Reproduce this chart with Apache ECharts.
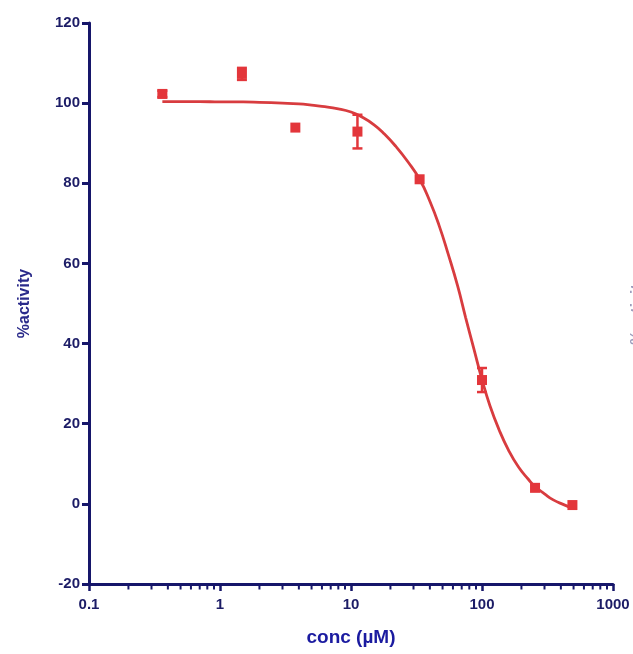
<!DOCTYPE html>
<html>
<head>
<meta charset="utf-8">
<title>% activity vs conc</title>
<script src="https://cdn.jsdelivr.net/npm/echarts@6/dist/echarts.min.js"></script>
<style>
  html, body { margin: 0; padding: 0; background: #fff; }
  #chart { width: 633px; height: 654px; }
</style>
</head>
<body>
<div id="chart"></div>
<script>
// measured points (conc in µM, % activity, error)
const conc = [0.363, 1.47, 3.76, 11.2, 33.4, 100, 254, 490]
const activity = [102.3, 107.3, 93.9, 92.9, 81.0, 30.9, 4.0, -0.3]
const errBar = [0.8, 1.5, 0, 4.2, 0, 3.0, 0, 0]

// fitted curve
const curveX = [0.363, 0.5, 0.7, 1, 1.5, 2, 3, 4, 5, 6, 8, 10, 12, 15, 18, 22, 27, 33.4, 40, 47, 55, 65, 75, 87, 100, 115, 135, 160, 190, 225, 254, 300, 350, 420, 500]
const curveY = [100.4, 100.4, 100.4, 100.3, 100.3, 100.2, 100.0, 99.8, 99.5, 99.2, 98.6, 97.8, 96.6, 94.6, 92.3, 89.2, 85.5, 81.0, 75.5, 69.5, 62.5, 54.5, 46.5, 38.5, 31.0, 24.5, 18.5, 13.3, 9.2, 6.2, 4.3, 2.5, 1.0, -0.2, -1.2]

// minor ticks of the log axis
const minorTicks = [
  0.2, 0.3, 0.4, 0.5, 0.6, 0.7, 0.8, 0.9,
  2, 3, 4, 5, 6, 7, 8, 9,
  20, 30, 40, 50, 60, 70, 80, 90,
  200, 300, 400, 500, 600, 700, 800, 900
]

const navy = '#16166a'
const red = '#e3363b'

const chart = echarts.init(document.getElementById('chart'))

chart.setOption({
  animation: false,
  grid: { left: 89, right: 20, top: 23, bottom: 70 },
  xAxis: {
    type: 'log',
    logBase: 10,
    min: 0.1,
    max: 1000,
    name: 'conc (µM)',
    nameLocation: 'middle',
    nameGap: 44,
    nameTextStyle: { color: '#1b1ba0', fontSize: 19, fontWeight: 'bold', fontFamily: 'Liberation Sans' },
    axisLine: { onZero: false, lineStyle: { color: navy, width: 3 } },
    axisTick: { length: 7, lineStyle: { color: navy, width: 2.5 } },
    axisLabel: {
      margin: 13,
      color: '#1c1c66',
      fontSize: 15,
      fontWeight: 'bold',
      fontFamily: 'Liberation Sans',
      formatter: v => String(Number(v.toPrecision(3)))
    },
    splitLine: { show: false }
  },
  yAxis: {
    type: 'value',
    min: -20,
    max: 120,
    interval: 20,
    name: '%activity',
    nameLocation: 'middle',
    nameGap: 56,
    nameTextStyle: { color: '#2a2a8a', fontSize: 16, fontWeight: 'bold', fontFamily: 'Liberation Sans' },
    axisLine: { show: true, onZero: false, lineStyle: { color: navy, width: 3 } },
    axisTick: { show: true, length: 7, lineStyle: { color: navy, width: 3 } },
    axisLabel: {
      margin: 9,
      color: '#1c1c66',
      fontSize: 15,
      fontWeight: 'bold',
      fontFamily: 'Liberation Sans'
    },
    splitLine: { show: false }
  },
  graphic: [{
    // cut-off axis title of the neighbouring panel
    type: 'text',
    x: 638,
    y: 310,
    rotation: Math.PI / 2,
    style: {
      text: '%activity',
      fill: '#3a3a7a',
      opacity: 0.5,
      font: 'bold 16px "Liberation Sans"',
      align: 'center',
      verticalAlign: 'middle'
    }
  }],
  series: [
    {
      type: 'scatter',
      data: minorTicks.map(v => [v, -20]),
      symbol: 'rect',
      symbolSize: [2, 4],
      symbolOffset: [0, 3.5],
      itemStyle: { color: navy, opacity: 1 },
      clip: false,
      silent: true,
      z: 1
    },
    {
      type: 'line',
      data: curveX.map((x, i) => [x, curveY[i]]),
      smooth: true,
      showSymbol: false,
      lineStyle: { color: '#d83c3f', width: 2.8 },
      silent: true,
      z: 2
    },
    {
      type: 'custom',
      data: conc.map((x, i) => [x, activity[i] - errBar[i], activity[i] + errBar[i]]).filter((d, i) => errBar[i] > 0),
      encode: { x: 0, y: [1, 2] },
      renderItem: (params, api) => {
        const lo = api.coord([api.value(0), api.value(1)])
        const hi = api.coord([api.value(0), api.value(2)])
        const w = 5
        const style = { stroke: red, lineWidth: 2.5 }
        return {
          type: 'group',
          children: [
            { type: 'line', shape: { x1: lo[0], y1: lo[1], x2: hi[0], y2: hi[1] }, style },
            { type: 'line', shape: { x1: lo[0] - w, y1: lo[1], x2: lo[0] + w, y2: lo[1] }, style },
            { type: 'line', shape: { x1: hi[0] - w, y1: hi[1], x2: hi[0] + w, y2: hi[1] }, style }
          ]
        }
      },
      silent: true,
      z: 3
    },
    {
      type: 'scatter',
      data: conc.map((x, i) => [x, activity[i]]),
      symbol: 'rect',
      symbolSize: 10,
      itemStyle: { color: red, opacity: 1 },
      silent: true,
      z: 4
    }
  ]
})
</script>
</body>
</html>
